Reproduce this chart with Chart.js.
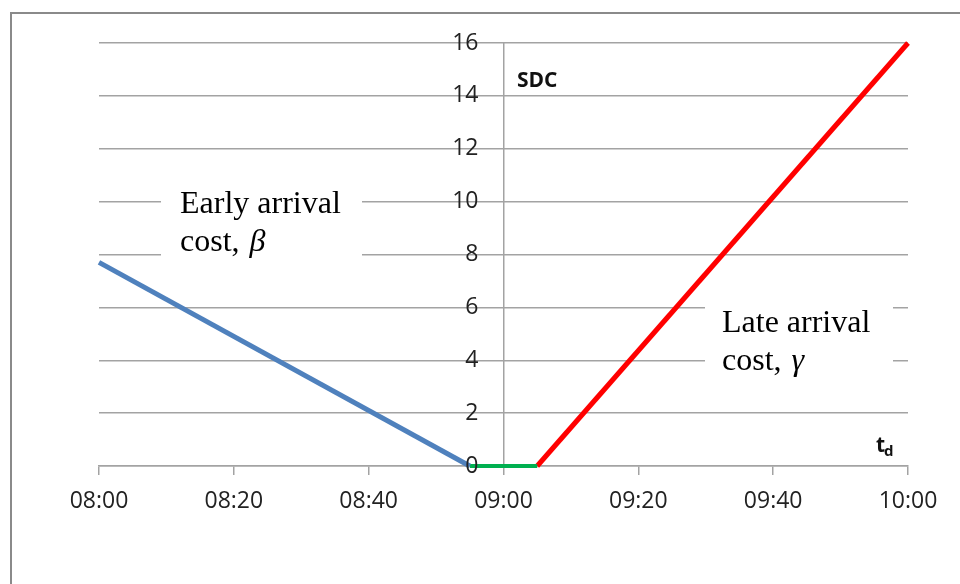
<!DOCTYPE html>
<html>
<head>
<meta charset="utf-8">
<style>
  html, body { margin: 0; padding: 0; background: #fff; }
  #wrap { position: relative; width: 960px; height: 584px; }
</style>
<script src="https://cdn.jsdelivr.net/npm/chart.js@4.4.1/dist/chart.umd.min.js"></script>
</head>
<body>
<div id="wrap"><canvas id="sdcChart" width="960" height="584"></canvas></div>
<script>
// minutes after 08:00
const earlyMinutes = [0, 55];
const earlyCost = [7.7, 0];
const onTimeMinutes = [55, 65];
const onTimeCost = [0, 0];
const lateMinutes = [65, 120];
const lateCost = [0, 16];

const xTicks = [0, 20, 40, 60, 80, 100, 120];
const yTicks = [0, 2, 4, 6, 8, 10, 12, 14, 16];

const toPoints = (xs, ys) => xs.map((x, i) => ({ x, y: ys[i] }));
const fmtTime = (m) => {
    const h = 8 + Math.floor(m / 60);
    return `${String(h).padStart(2, '0')}:${String(m % 60).padStart(2, '0')}`;
};

const gridGrey = '#a3a3a3';
const tickFont = { family: '"Open Sans", sans-serif', size: 23 };

const decorPlugin = {
    id: 'decor',
    beforeDraw(chart) {
        const ctx = chart.ctx;
        ctx.save();
        ctx.fillStyle = '#fff';
        ctx.fillRect(0, 0, chart.width, chart.height);
        ctx.restore();
    },
    beforeDatasetsDraw(chart) {
        const ctx = chart.ctx;
        ctx.save();
        // text boxes hide the gridlines behind them
        ctx.fillStyle = '#fff';
        ctx.fillRect(161, 172, 201, 110);
        ctx.fillRect(705, 292, 188, 106);

        ctx.fillStyle = '#000';
        ctx.textAlign = 'left';
        ctx.textBaseline = 'alphabetic';
        const serif = '32px "Liberation Serif", "Times New Roman", serif';
        ctx.font = serif;
        const w = ctx.measureText('cost, ').width;
        ctx.fillText('Early arrival', 180, 213);
        ctx.fillText('cost, ', 180, 251);
        ctx.fillText('Late arrival', 722, 332);
        ctx.fillText('cost, ', 722, 370);
        ctx.font = 'italic ' + serif;
        ctx.fillText('\u03B2', 180 + w + 2, 251);
        ctx.fillText('\u03B3', 722 + w + 2, 370);

        // axis titles
        ctx.font = 'bold 21px "Open Sans", sans-serif';
        ctx.fillStyle = '#111';
        ctx.fillText('SDC', 517, 87);
        ctx.fillText('t', 876, 452);
        ctx.font = 'bold 15px "Open Sans", sans-serif';
        ctx.fillText('d', 884, 456);
        ctx.restore();
    },
    afterDatasetsDraw(chart) {
        const ctx = chart.ctx;
        const { x, y } = chart.scales;
        ctx.save();
        // y tick labels sit left of the crossing axis (positioned axes ignore padding)
        ctx.font = `${tickFont.size}px ${tickFont.family}`;
        ctx.fillStyle = '#222';
        ctx.textAlign = 'right';
        ctx.textBaseline = 'middle';
        const axisX = x.getPixelForValue(60);
        y.ticks.forEach((t) => ctx.fillText(String(t.value), axisX - 25, y.getPixelForValue(t.value)));
        ctx.restore();
    },
    afterDraw(chart) {
        const ctx = chart.ctx;
        ctx.save();
        ctx.strokeStyle = '#8a8a8a';
        ctx.lineWidth = 2;
        ctx.beginPath();
        ctx.moveTo(11, chart.height);
        ctx.lineTo(11, 13);
        ctx.lineTo(chart.width, 13);
        ctx.stroke();
        ctx.restore();
    }
};

new Chart(document.getElementById('sdcChart').getContext('2d'), {
    type: 'scatter',
    data: {
        datasets: [
            { data: toPoints(earlyMinutes, earlyCost), borderColor: '#4F81BD', borderWidth: 5 },
            { data: toPoints(onTimeMinutes, onTimeCost), borderColor: '#00B050', borderWidth: 4 },
            { data: toPoints(lateMinutes, lateCost), borderColor: '#FF0000', borderWidth: 5 }
        ].map((d) => ({ ...d, showLine: true, pointRadius: 0, borderCapStyle: 'butt', fill: false, clip: false }))
    },
    options: {
        responsive: false,
        animation: false,
        layout: { padding: { left: 99, right: 52, top: 43, bottom: 0 } },
        plugins: { legend: { display: false }, tooltip: { enabled: false } },
        scales: {
            x: {
                type: 'linear',
                min: 0,
                max: 120,
                afterBuildTicks: (s) => { s.ticks = xTicks.map((v) => ({ value: v })); },
                afterFit: (s) => { s.height = 584 - 466; },
                border: { color: gridGrey, width: 1.5 },
                grid: { drawOnChartArea: false, drawTicks: true, tickLength: 9, color: gridGrey, lineWidth: 1.5 },
                ticks: { callback: (v) => fmtTime(v), font: tickFont, color: '#222', padding: 13, maxRotation: 0 }
            },
            y: {
                position: { x: 60 },
                min: 0,
                max: 16,
                afterBuildTicks: (s) => { s.ticks = yTicks.map((v) => ({ value: v })); },
                border: { color: gridGrey, width: 1.5 },
                grid: { drawTicks: false, color: gridGrey, lineWidth: 1.5 },
                ticks: { display: false }
            }
        }
    },
    plugins: [decorPlugin]
});
</script>
</body>
</html>
